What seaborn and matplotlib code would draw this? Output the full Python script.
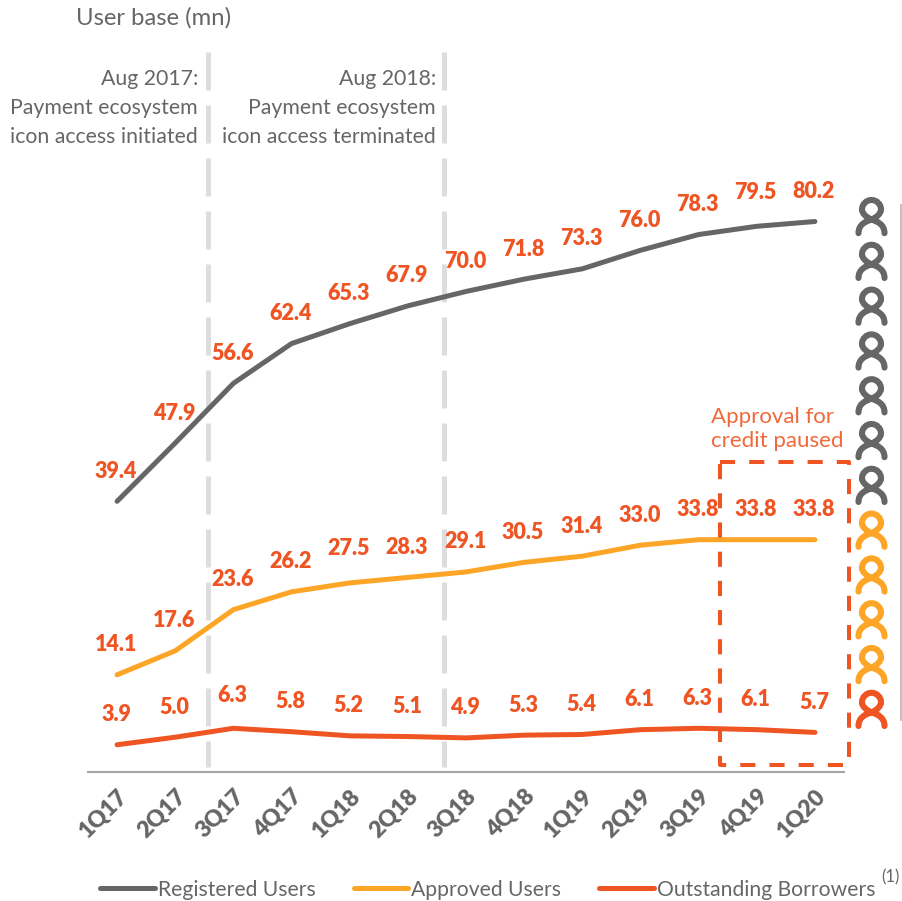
import pandas as pd
import seaborn as sns
import matplotlib.pyplot as plt
from matplotlib.path import Path
from matplotlib.patches import PathPatch
from matplotlib.lines import Line2D
from matplotlib.transforms import Affine2D

# 数据
quarters = ['1Q17', '2Q17', '3Q17', '4Q17', '1Q18', '2Q18', '3Q18', '4Q18', '1Q19', '2Q19', '3Q19', '4Q19', '1Q20']
registered = [39.4, 47.9, 56.6, 62.4, 65.3, 67.9, 70.0, 71.8, 73.3, 76.0, 78.3, 79.5, 80.2]
approved = [14.1, 17.6, 23.6, 26.2, 27.5, 28.3, 29.1, 30.5, 31.4, 33.0, 33.8, 33.8, 33.8]
borrowers = [3.9, 5.0, 6.3, 5.8, 5.2, 5.1, 4.9, 5.3, 5.4, 6.1, 6.3, 6.1, 5.7]
series_names = ['Registered Users', 'Approved Users', 'Outstanding Borrowers']
icon_counts = [7, 4, 1]

GREY = '#666666'
AMBER = '#FDA526'
ORANGE = '#EF5423'
colors = [GREY, AMBER, ORANGE]
W, H = 902, 901

sns.set_theme(style='white')
plt.rcParams['font.family'] = ['Lato', 'DejaVu Sans']
plt.rcParams['lines.solid_capstyle'] = 'round'
plt.rcParams['lines.solid_joinstyle'] = 'round'

df = pd.DataFrame({
    'quarter': quarters * 3,
    'users': registered + approved + borrowers,
    'series': [s for s in series_names for _ in quarters],
})

fig = plt.figure(figsize=(W / 100, H / 100), dpi=100)
ax = fig.add_axes([88 / W, (H - 771.5) / H, 756 / W, 771.5 / H])

sns.lineplot(data=df, x='quarter', y='users', hue='series', hue_order=series_names,
             palette=colors, linewidth=3.6, sort=False, errorbar=None, ax=ax)

ax.set_xlim(-0.5, 12.5)
ax.set_ylim(0, 112.5)
ax.patch.set_alpha(0)
ax.set_xlabel('')
ax.set_ylabel('')
ax.set_yticks([])
ax.set_xticks(range(len(quarters)))
ax.set_xticklabels(quarters, rotation=45, ha='right', rotation_mode='anchor',
                   fontsize=16.5, fontweight='heavy', color=GREY)
ax.tick_params(axis='x', length=0, pad=10)
sns.despine(ax=ax, left=True)
ax.spines['bottom'].set_color('#A6A6A6')
ax.spines['bottom'].set_linewidth(1.5)

# 数据标签，个别标签偏移不同
label_shift = {(0, 11): 34, (1, 4): 34, (2, 2): 33}
for i, values in enumerate([registered, approved, borrowers]):
    for j, v in enumerate(values):
        ax.annotate('%.1f' % v, (j, v), xytext=(-1, label_shift.get((i, j), 30)),
                    textcoords='offset pixels', ha='center', va='center',
                    fontsize=15.5, fontweight='heavy', color=ORANGE)

# 竖直虚线
for x in [1.565, 5.62]:
    ax.plot([x, x], [104.9, 0.65], color='#DDDDDD', lw=3.6, dashes=(38 / 5, 15 / 5),
            dash_capstyle='butt', clip_on=False, zorder=1)

# 暂停审批的虚线框
ax.plot([10.37, 12.58, 12.58, 10.37, 10.37], [45.2, 45.2, 0.9, 0.9, 45.2],
        color=ORANGE, lw=2.9, dashes=(15 / 4, 14 / 4), dash_capstyle='butt',
        clip_on=False, zorder=5)


def px_text(x, y, s, **kw):
    fig.text(x / W, 1 - y / H, s, va='center', **kw)


px_text(76, 18, 'User base (mn)', fontsize=17.2, color=GREY)
for x, lines in [(198, ['Aug 2017:', 'Payment ecosystem', 'icon access initiated']),
                 (436, ['Aug 2018:', 'Payment ecosystem', 'icon access terminated'])]:
    for y, s in zip([79, 108, 137], lines):
        px_text(x, y, s, ha='right', fontsize=15.3, color=GREY)
px_text(711, 417, 'Approval for', fontsize=16, color='#F1683A')
px_text(711, 441, 'credit paused', fontsize=16, color='#F1683A')

# 图例
sns.move_legend(ax, 'center left', bbox_to_anchor=(100 / W, 1 - 889.5 / H),
                bbox_transform=fig.transFigure, ncol=3, title=None, frameon=False,
                fontsize=15.2, labelcolor=GREY, handlelength=2.6, handletextpad=0.14,
                columnspacing=1.8, borderpad=0, borderaxespad=0)
for line in ax.get_legend().get_lines():
    line.set_solid_capstyle('round')
px_text(881, 877, '(1)', fontsize=12, color=GREY)

# 右侧人形图标
person = Path([(-13, -16.7), (-13, -8), (-6, -5), (0, -3),
               (5, -1), (9.5, 3), (9.5, 7),
               (9.5, 12.2), (5.2, 16.5), (0, 16.5),
               (-5.2, 16.5), (-9.5, 12.2), (-9.5, 7),
               (-9.5, 3), (-5, -1), (0, -3),
               (6, -5), (13, -8), (13, -16.7)],
              [Path.MOVETO] + [Path.CURVE4] * 18)
icon_colors = [c for c, n in zip(colors, icon_counts) for _ in range(n)]
for i, c in enumerate(icon_colors):
    y = 216.5 + 44.8 * i
    patch = PathPatch(person, fc='none', ec=c, lw=4.4, capstyle='round',
                      transform=Affine2D().translate(871.5, H - y))
    fig.add_artist(patch)

fig.add_artist(Line2D([901 / W, 901 / W], [1 - 205 / H, 1 - 720 / H], color='#BFBFBF', lw=1.5))

fig.savefig('out.png', dpi=100)
